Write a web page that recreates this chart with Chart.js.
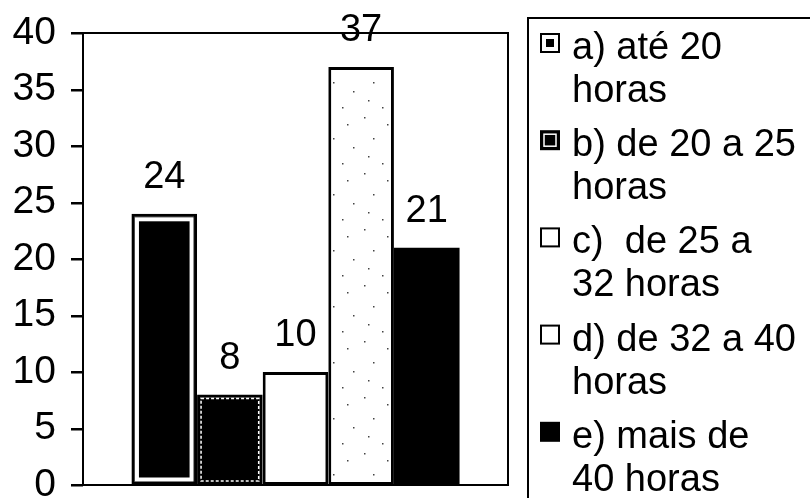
<!DOCTYPE html>
<html>
<head>
<meta charset="utf-8">
<script src="https://cdn.jsdelivr.net/npm/chart.js@4.4.1/dist/chart.umd.min.js"></script>
<style>
  body { margin: 0; background: #fff; }
  canvas { display: block; }
</style>
</head>
<body>
<canvas id="barchart" width="810" height="498"></canvas>
<script>
const categories = [''];
const seriesNames = ['a) até 20 horas', 'b) de 20 a 25 horas', 'c)  de 25 a 32 horas', 'd) de 32 a 40 horas', 'e) mais de 40 horas'];
const legendLines = [
    ['a) até 20', 'horas'],
    ['b) de 20 a 25', 'horas'],
    ['c)  de 25 a', '32 horas'],
    ['d) de 32 a 40', 'horas'],
    ['e) mais de', '40 horas']
];
const values = [24, 8, 10, 37, 21];
const yTicks = [0, 5, 10, 15, 20, 25, 30, 35, 40];

const FONT = '"Liberation Sans", Arial, sans-serif';

// light stipple for bar d
function stipple() {
    const c = document.createElement('canvas');
    c.width = 40; c.height = 56;
    const g = c.getContext('2d');
    g.fillStyle = '#fff';
    g.fillRect(0, 0, 40, 56);
    g.fillStyle = '#444';
    [[4, 5], [27, 12], [13, 26], [33, 35], [8, 44], [22, 51]].forEach(p => {
        g.fillRect(p[0], p[1], 1.5, 1.5);
    });
    return g.createPattern(c, 'repeat');
}

const fills = ['#000', '#000', '#fff', stipple(), '#000'];

const datasets = values.map((v, i) => ({
    label: seriesNames[i],
    data: [v],
    backgroundColor: fills[i],
    borderColor: '#000',
    borderWidth: i === 4 ? 0 : 3,
    borderSkipped: false,
    categoryPercentage: 0.772,
    barPercentage: 1
}));

const barExtras = {
    id: 'barExtras',
    afterDatasetsDraw(chart) {
        const ctx = chart.ctx;
        ctx.save();
        // white inner lines on a and b
        [[0, 5.5, 4, []], [1, 4, 1.5, [3, 2]]].forEach(([i, inset, lw, dash]) => {
            const bar = chart.getDatasetMeta(i).data[0];
            const l = bar.x - bar.width / 2, r = bar.x + bar.width / 2;
            ctx.strokeStyle = '#fff';
            ctx.lineWidth = lw;
            ctx.setLineDash(dash);
            ctx.strokeRect(l + inset, bar.y + inset, r - l - 2 * inset, bar.base - bar.y - 2 * inset);
        });
        ctx.setLineDash([]);
        // value labels
        ctx.fillStyle = '#000';
        ctx.font = '38px ' + FONT;
        ctx.textAlign = 'center';
        ctx.textBaseline = 'middle';
        values.forEach((v, i) => {
            const bar = chart.getDatasetMeta(i).data[0];
            ctx.fillText(String(v), bar.x, bar.y - 36);
        });
        ctx.restore();
    }
};

const frameAndLegend = {
    id: 'frameAndLegend',
    afterDraw(chart) {
        const ctx = chart.ctx;
        ctx.save();
        // frame of the plot area and y tick marks
        const a = chart.chartArea;
        const ys = chart.scales.y;
        ctx.strokeStyle = '#000';
        ctx.fillStyle = '#000';
        ctx.lineWidth = 2;
        ctx.strokeRect(a.left, a.top, a.right - a.left, a.bottom - a.top);
        yTicks.forEach(v => {
            const py = Math.round(ys.getPixelForValue(v));
            ctx.fillRect(a.left - 12, py - 1, 12, 2.5);
        });

        // legend box
        ctx.strokeRect(528, 18, 320, 520);
        ctx.font = '38px ' + FONT;
        ctx.textAlign = 'left';
        ctx.textBaseline = 'alphabetic';
        legendLines.forEach((lines, i) => {
            const base = 59 + i * 97.2;
            const sx = 540, sy = base - 26, s = 20;
            ctx.lineWidth = 2;
            if (i === 4) {
                ctx.fillStyle = '#000';
                ctx.fillRect(sx, sy, s, s);
            } else if (i === 1) {
                ctx.fillStyle = '#000';
                ctx.fillRect(sx, sy, s, s);
                ctx.strokeStyle = '#fff';
                ctx.lineWidth = 1.5;
                ctx.strokeRect(sx + 4, sy + 4, s - 8, s - 8);
            } else {
                ctx.fillStyle = '#fff';
                ctx.fillRect(sx, sy, s, s);
                ctx.strokeStyle = '#000';
                ctx.strokeRect(sx + 1, sy + 1, s - 2, s - 2);
                if (i === 0) {
                    ctx.fillStyle = '#000';
                    ctx.fillRect(sx + 6, sy + 6, 8, 8);
                }
            }
            ctx.fillStyle = '#000';
            lines.forEach((t, k) => ctx.fillText(t, 572, base + k * 43));
        });
        ctx.restore();
    }
};

const ctx = document.getElementById('barchart').getContext('2d');
const barchart = new Chart(ctx, {
    type: 'bar',
    data: {
        labels: categories,
        datasets: datasets
    },
    options: {
        responsive: false,
        animation: false,
        layout: {
            padding: { top: 33, right: 302, bottom: 13, left: 0 }
        },
        scales: {
            x: {
                display: false
            },
            y: {
                min: 0,
                max: 40,
                afterBuildTicks: scale => {
                    scale.ticks = yTicks.map(v => ({ value: v }));
                },
                afterFit: scale => {
                    scale.width = 83;
                    scale.paddingTop = 0;
                    scale.paddingBottom = 0;
                },
                border: { display: false },
                grid: { display: false },
                ticks: {
                    padding: 19,
                    color: '#000',
                    font: { family: FONT, size: 39 }
                }
            }
        },
        plugins: {
            legend: { display: false },
            tooltip: { enabled: false }
        }
    },
    plugins: [barExtras, frameAndLegend]
});
</script>
</body>
</html>
